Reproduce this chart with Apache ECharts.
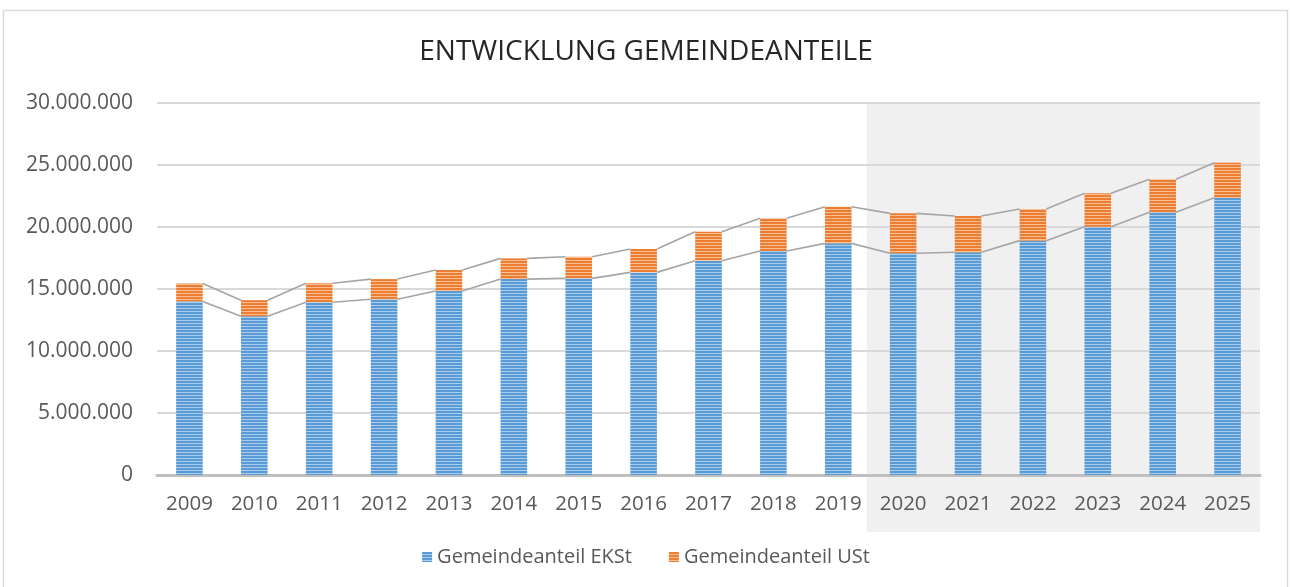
<!DOCTYPE html>
<html>
<head>
<meta charset="utf-8">
<title>Entwicklung Gemeindeanteile</title>
<script src="https://cdn.jsdelivr.net/npm/echarts@6/dist/echarts.min.js"></script>
<style>
    html, body { margin: 0; padding: 0; background: #fff; }
    #chart { width: 1292px; height: 587px; }
</style>
</head>
<body>
<div id="chart"></div>
<script>
const years = ["2009", "2010", "2011", "2012", "2013", "2014", "2015", "2016", "2017",
    "2018", "2019", "2020", "2021", "2022", "2023", "2024", "2025"];
const anteilEKSt = [14000000, 12800000, 13930000, 14170000, 14840000, 15800000, 15860000, 16340000, 17280000,
    18060000, 18680000, 17880000, 17960000, 18900000, 20020000, 21180000, 22360000];
const anteilUSt = [1440000, 1300000, 1530000, 1630000, 1690000, 1670000, 1740000, 1890000, 2340000,
    2640000, 2960000, 3220000, 2930000, 2550000, 2700000, 2670000, 2830000];
const yTicks = [0, 5000000, 10000000, 15000000, 20000000, 25000000, 30000000];
const prognoseStart = "2020";

const textColor = "#595959";
const font = "'Open Sans', 'Noto Sans', sans-serif";

// striped fill like the excel pattern
function stripes(dark, light) {
    let c = document.createElement("canvas");
    c.width = 4;
    c.height = 3;
    let ctx = c.getContext("2d");
    ctx.fillStyle = dark;
    ctx.fillRect(0, 0, 4, 3);
    ctx.fillStyle = light;
    ctx.fillRect(0, 2, 4, 1);
    return { image: c, repeat: "repeat" };
}

function punkt(v) {
    return String(v).replace(/\B(?=(\d{3})+(?!\d))/g, ".");
}

const totals = anteilEKSt.map((v, i) => v + anteilUSt[i]);
const linien = [];
for (let i = 0; i < years.length - 1; i++) {
    linien.push([i, anteilEKSt[i], anteilEKSt[i + 1], totals[i], totals[i + 1]]);
}

const barRatio = 0.41;

let chart = echarts.init(document.getElementById("chart"));

let option = {
    animation: false,
    title: {
        text: "ENTWICKLUNG GEMEINDEANTEILE",
        left: "center",
        top: 33,
        textStyle: { fontFamily: font, fontSize: 28, fontWeight: "normal", color: "#262626" }
    },
    grid: { left: 157, right: 32, top: 103, bottom: 112 },
    legend: {
        bottom: 15,
        left: "center",
        itemWidth: 10,
        itemHeight: 10,
        itemGap: 37,
        icon: "rect",
        textStyle: { fontFamily: font, fontSize: 20, color: textColor },
        data: ["Gemeindeanteil EKSt", "Gemeindeanteil USt"]
    },
    xAxis: {
        type: "category",
        data: years,
        axisTick: { show: false },
        axisLine: { lineStyle: { color: "#bfbfbf", width: 3 } },
        axisLabel: { color: textColor, fontFamily: font, fontSize: 20.5, margin: 19 }
    },
    yAxis: {
        type: "value",
        min: yTicks[0],
        max: yTicks[yTicks.length - 1],
        interval: yTicks[1] - yTicks[0],
        axisLine: { show: false },
        axisTick: { show: false },
        splitLine: { lineStyle: { color: "#d9d9d9", width: 2 } },
        axisLabel: { color: textColor, fontFamily: font, fontSize: 21, margin: 24, formatter: punkt }
    },
    series: [
        {
            name: "Gemeindeanteil EKSt",
            type: "bar",
            stack: "g",
            barWidth: (barRatio * 100) + "%",
            itemStyle: { color: stripes("#5b9bd5", "#a9cbec") },
            data: anteilEKSt,
            z: 3
        },
        {
            name: "Gemeindeanteil USt",
            type: "bar",
            stack: "g",
            barWidth: (barRatio * 100) + "%",
            itemStyle: { color: stripes("#ed7d31", "#f8bf96") },
            data: anteilUSt,
            z: 3
        },
        {
            // verbindungslinien zwischen den saeulen
            type: "custom",
            silent: true,
            z: 4,
            encode: { x: 0, y: [1, 2, 3, 4] },
            data: linien,
            renderItem: function (params, api) {
                let i = api.value(0);
                let half = api.size([1, 0])[0] * barRatio / 2;
                let a1 = api.coord([i, api.value(1)]);
                let a2 = api.coord([i + 1, api.value(2)]);
                let b1 = api.coord([i, api.value(3)]);
                let b2 = api.coord([i + 1, api.value(4)]);
                let st = { stroke: "#a5a5a5", lineWidth: 1.6, fill: null };
                return {
                    type: "group",
                    children: [
                        { type: "line", shape: { x1: a1[0] + half, y1: a1[1], x2: a2[0] - half, y2: a2[1] }, style: st },
                        { type: "line", shape: { x1: b1[0] + half, y1: b1[1], x2: b2[0] - half, y2: b2[1] }, style: st }
                    ]
                };
            }
        }
    ]
};

chart.setOption(option);

// grauer hintergrund fuer die prognosejahre + rahmen
let idx = years.indexOf(prognoseStart);
let p0 = chart.convertToPixel({ xAxisIndex: 0 }, years[idx]);
let pEnd = chart.convertToPixel({ xAxisIndex: 0 }, years[years.length - 1]);
let band = (pEnd - p0) / (years.length - 1 - idx);
let yTop = chart.convertToPixel({ yAxisIndex: 0 }, yTicks[yTicks.length - 1]);
let yNull = chart.convertToPixel({ yAxisIndex: 0 }, 0);

chart.setOption({
    graphic: [
        {
            type: "rect",
            z: -10,
            silent: true,
            shape: { x: p0 - band / 2 - 4, y: yTop, width: (pEnd + band / 2) - (p0 - band / 2) + 4, height: yNull - yTop + 57 },
            style: { fill: "#f0f0f0" }
        },
        {
            type: "rect",
            z: -10,
            silent: true,
            shape: { x: 3.5, y: 10.5, width: 1284, height: 600 },
            style: { fill: null, stroke: "#d9d9d9", lineWidth: 1.5 }
        }
    ]
});
</script>
</body>
</html>
